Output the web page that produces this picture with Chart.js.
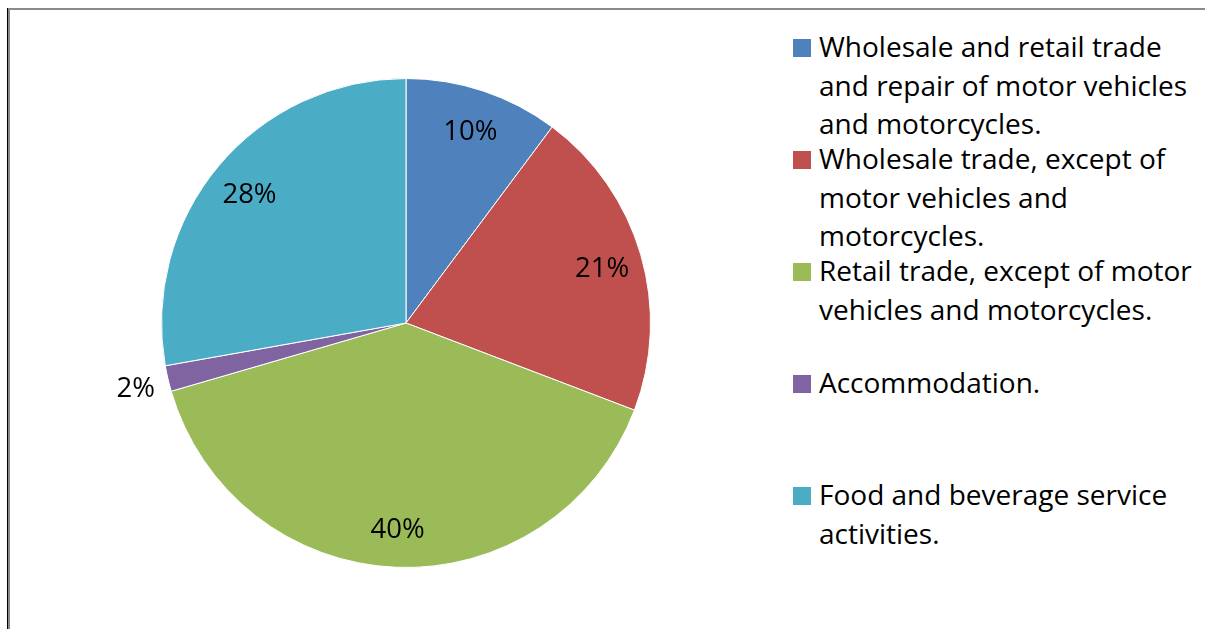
<!DOCTYPE html>
<html>
<head>
<meta charset="utf-8">
<script src="https://cdn.jsdelivr.net/npm/chart.js@4"></script>
<style>
body{margin:0;background:#fff;width:1205px;height:629px;overflow:hidden;position:relative;font-family:"Open Sans",sans-serif;}
#frame{position:absolute;left:8px;top:8px;width:1220px;height:660px;border-left:2px solid #8a8a8a;border-top:2px solid #8a8a8a;box-shadow:-1px 0 0 #000;}
#wrap{position:absolute;left:0;top:0;width:780px;height:629px;}
.pct{position:absolute;font-size:27.5px;color:#000;transform:translate(-50%,-50%);white-space:nowrap;line-height:1.2;}
#legend{position:absolute;left:793px;top:0;}
.sw{position:absolute;left:0;width:18px;height:18px;}
.txt{position:absolute;left:26px;font-size:28px;line-height:38.5px;white-space:nowrap;color:#000;}
</style>
</head>
<body>
<div id="frame"></div>
<div id="wrap"><canvas id="pie" width="780" height="629"></canvas></div>
<div id="legend"></div>
<div id="labels"></div>
<script>
// sectors, clockwise from 12 o'clock
const categories = [
  ["Wholesale and retail trade", "and repair of motor vehicles", "and motorcycles."],
  ["Wholesale trade, except of", "motor vehicles and", "motorcycles."],
  ["Retail trade, except of motor", "vehicles and motorcycles."],
  ["Accommodation."],
  ["Food and beverage service", "activities."]
];
const values = [10.2, 20.6, 39.7, 1.7, 27.8];
const colors = ["#4F81BD", "#C0504D", "#9BBB59", "#8064A2", "#4BACC6"];

const total = values.reduce((a, b) => a + b, 0);

// legend
const legend = document.getElementById('legend');
categories.forEach((lines, i) => {
  const sw = document.createElement('div');
  sw.className = 'sw';
  sw.style.top = (39 + i * 112) + 'px';
  sw.style.background = colors[i];
  legend.appendChild(sw);
  const t = document.createElement('div');
  t.className = 'txt';
  t.style.top = (27 + i * 112) + 'px';
  t.innerHTML = lines.join('<br>');
  legend.appendChild(t);
});

// percentage labels, placed from the arc geometry
const labelBox = document.getElementById('labels');
const pctLabels = {
  id: 'pctLabels',
  afterDraw(chart) {
    labelBox.innerHTML = '';
    const meta = chart.getDatasetMeta(0);
    meta.data.forEach((arc, i) => {
      const p = arc.getProps(['x', 'y', 'startAngle', 'endAngle', 'outerRadius'], true);
      const mid = (p.startAngle + p.endAngle) / 2;
      const share = values[i] / total * 100;
      const r = share < 5 ? p.outerRadius * 1.135 : p.outerRadius * 0.835;
      const d = document.createElement('div');
      d.className = 'pct';
      d.textContent = Math.round(share) + '%';
      d.style.left = (p.x + Math.cos(mid) * r) + 'px';
      d.style.top = (p.y + Math.sin(mid) * r) + 'px';
      labelBox.appendChild(d);
    });
  }
};

new Chart(document.getElementById('pie'), {
  type: 'pie',
  data: {
    labels: categories.map(l => l.join(' ')),
    datasets: [{
      data: values,
      backgroundColor: colors,
      borderColor: '#ffffff',
      borderWidth: 1
    }]
  },
  options: {
    responsive: false,
    animation: false,
    layout: { padding: { left: 161, top: 78, right: 129, bottom: 61 } },
    plugins: {
      legend: { display: false },
      tooltip: { enabled: false }
    }
  },
  plugins: [pctLabels]
});
</script>
</body>
</html>
